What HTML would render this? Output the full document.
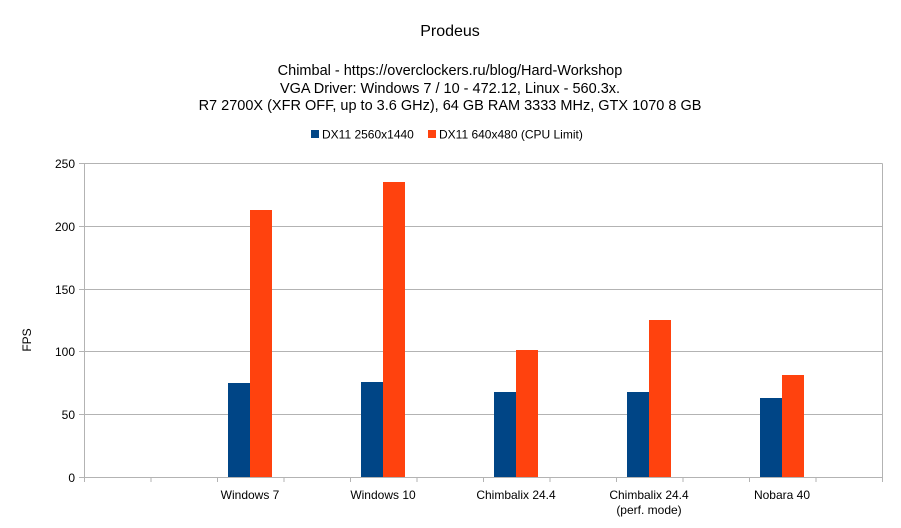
<!DOCTYPE html>
<html><head><meta charset="utf-8"><style>
html,body{margin:0;padding:0;background:#fff;}
svg{display:block;font-family:"Liberation Sans",sans-serif;}
</style></head><body>
<svg width="901" height="528" xmlns="http://www.w3.org/2000/svg">
<rect width="901" height="528" fill="#fff"/>
<text x="450" y="36" font-size="16" text-anchor="middle" fill="#000">Prodeus</text>
<text x="450" y="75" font-size="14.5" text-anchor="middle" fill="#000">Chimbal - https://overclockers.ru/blog/Hard-Workshop</text>
<text x="450" y="93" font-size="14.5" text-anchor="middle" fill="#000">VGA Driver: Windows 7 / 10 - 472.12, Linux - 560.3x.</text>
<text x="450" y="110" font-size="14.5" text-anchor="middle" fill="#000">R7 2700X (XFR OFF, up to 3.6 GHz), 64 GB RAM 3333 MHz, GTX 1070 8 GB</text>
<rect x="311" y="130" width="8" height="8" fill="#004586"/>
<text x="322" y="138.5" font-size="12" fill="#000">DX11 2560x1440</text>
<rect x="428" y="130" width="8" height="8" fill="#ff420e"/>
<text x="439" y="138.5" font-size="12" fill="#000">DX11 640x480 (CPU Limit)</text>
<g stroke="#b3b3b3" stroke-width="1">
<line x1="79" y1="163.5" x2="882.5" y2="163.5"/>
<line x1="79" y1="226.5" x2="882.5" y2="226.5"/>
<line x1="79" y1="289.5" x2="882.5" y2="289.5"/>
<line x1="79" y1="351.5" x2="882.5" y2="351.5"/>
<line x1="79" y1="414.5" x2="882.5" y2="414.5"/>
<line x1="79" y1="477.5" x2="882.5" y2="477.5"/>
<line x1="84.5" y1="163.5" x2="84.5" y2="477.5"/>
<line x1="882.5" y1="163.5" x2="882.5" y2="482"/>
</g>
<g fill="#004586">
<rect x="228" y="383" width="22" height="94"/>
<rect x="361" y="382" width="22" height="95"/>
<rect x="494" y="392" width="22" height="85"/>
<rect x="627" y="392" width="22" height="85"/>
<rect x="760" y="398" width="22" height="79"/>
</g>
<g fill="#ff420e">
<rect x="250" y="210" width="22" height="267"/>
<rect x="383" y="182" width="22" height="295"/>
<rect x="516" y="350" width="22" height="127"/>
<rect x="649" y="320" width="22" height="157"/>
<rect x="782" y="375" width="22" height="102"/>
</g>
<g stroke="#b3b3b3" stroke-width="1">
<line x1="84.5" y1="477" x2="84.5" y2="482"/>
<line x1="151" y1="477" x2="151" y2="482"/>
<line x1="217.5" y1="477" x2="217.5" y2="482"/>
<line x1="284" y1="477" x2="284" y2="482"/>
<line x1="350.5" y1="477" x2="350.5" y2="482"/>
<line x1="417" y1="477" x2="417" y2="482"/>
<line x1="483.5" y1="477" x2="483.5" y2="482"/>
<line x1="550" y1="477" x2="550" y2="482"/>
<line x1="616.5" y1="477" x2="616.5" y2="482"/>
<line x1="683" y1="477" x2="683" y2="482"/>
<line x1="749.5" y1="477" x2="749.5" y2="482"/>
<line x1="816" y1="477" x2="816" y2="482"/>
</g>
<g font-size="12" fill="#000" text-anchor="end">
<text x="75" y="168">250</text>
<text x="75" y="231">200</text>
<text x="75" y="294">150</text>
<text x="75" y="356">100</text>
<text x="75" y="419">50</text>
<text x="75" y="482">0</text>
</g>
<g font-size="12" fill="#000" text-anchor="middle">
<text x="250" y="499">Windows 7</text>
<text x="383" y="499">Windows 10</text>
<text x="516" y="499">Chimbalix 24.4</text>
<text x="649" y="499">Chimbalix 24.4</text>
<text x="649" y="514">(perf. mode)</text>
<text x="782" y="499">Nobara 40</text>
</g>
<text transform="translate(31,340) rotate(-90)" font-size="12" fill="#000" text-anchor="middle">FPS</text>
</svg>
</body></html>
